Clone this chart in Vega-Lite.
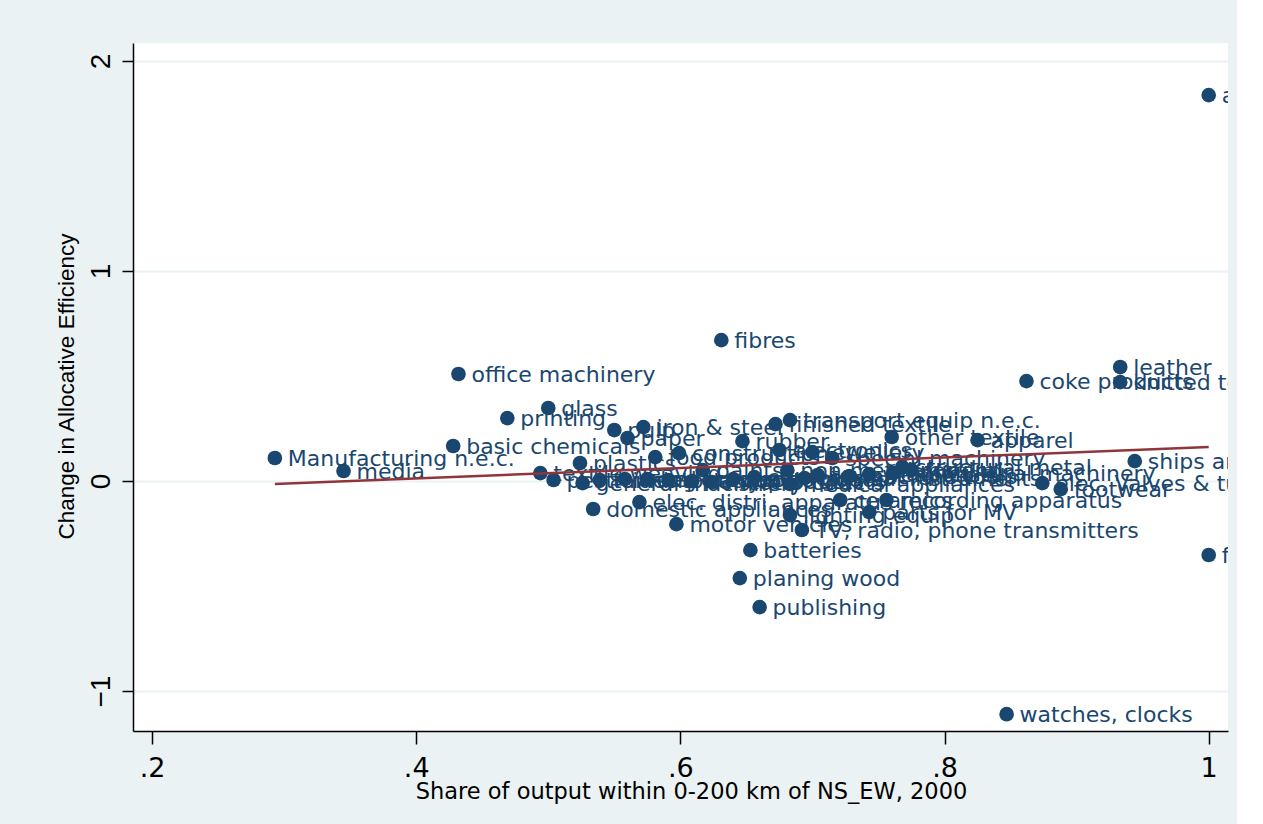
{
  "$schema": "https://vega.github.io/schema/vega-lite/v6.json",
  "autosize": {"type": "none"},
  "width": 1095,
  "height": 688,
  "padding": {"left": 133, "top": 43, "right": 9, "bottom": 93},
  "background": "#eaf2f3",
  "config": {"view": {"stroke": null, "fill": "white"}},
  "datasets": {
    "industries": [
      {"industry": "aircraft", "share": 1.000, "change": 1.838},
      {"industry": "fibres", "share": 0.631, "change": 0.671},
      {"industry": "office machinery", "share": 0.432, "change": 0.510},
      {"industry": "leather", "share": 0.933, "change": 0.543},
      {"industry": "coke products", "share": 0.862, "change": 0.476},
      {"industry": "knitted textiles", "share": 0.933, "change": 0.471},
      {"industry": "printing", "share": 0.469, "change": 0.300},
      {"industry": "glass", "share": 0.500, "change": 0.348},
      {"industry": "pulp", "share": 0.550, "change": 0.243},
      {"industry": "iron & steel", "share": 0.572, "change": 0.257},
      {"industry": "paper", "share": 0.560, "change": 0.205},
      {"industry": "finished textile", "share": 0.672, "change": 0.271},
      {"industry": "transport equip n.e.c.", "share": 0.683, "change": 0.290},
      {"industry": "rubber", "share": 0.647, "change": 0.190},
      {"industry": "other textile", "share": 0.760, "change": 0.210},
      {"industry": "apparel", "share": 0.825, "change": 0.195},
      {"industry": "basic chemicals", "share": 0.428, "change": 0.167},
      {"industry": "Manufacturing n.e.c.", "share": 0.293, "change": 0.110},
      {"industry": "media", "share": 0.345, "change": 0.048},
      {"industry": "textile weaving", "share": 0.494, "change": 0.038},
      {"industry": "pesticides", "share": 0.504, "change": 0.005},
      {"industry": "plastics", "share": 0.524, "change": 0.086},
      {"industry": "general machinery", "share": 0.526, "change": -0.010},
      {"industry": "food products", "share": 0.581, "change": 0.114},
      {"industry": "construction", "share": 0.599, "change": 0.133},
      {"industry": "tanning", "share": 0.539, "change": 0.005},
      {"industry": "wood products", "share": 0.558, "change": 0.010},
      {"industry": "beverages", "share": 0.575, "change": 0.010},
      {"industry": "tobacco", "share": 0.591, "change": 0.005},
      {"industry": "dairy products", "share": 0.609, "change": 0.000},
      {"industry": "meat products", "share": 0.624, "change": -0.005},
      {"industry": "sports goods", "share": 0.640, "change": 0.010},
      {"industry": "cement", "share": 0.656, "change": 0.019},
      {"industry": "medical appliances", "share": 0.683, "change": -0.014},
      {"industry": "electronics", "share": 0.675, "change": 0.148},
      {"industry": "jewellery", "share": 0.700, "change": 0.138},
      {"industry": "special machinery", "share": 0.715, "change": 0.110},
      {"industry": "non-metal mineral", "share": 0.681, "change": 0.052},
      {"industry": "toys", "share": 0.704, "change": 0.029},
      {"industry": "musical instruments", "share": 0.694, "change": 0.014},
      {"industry": "machine tools", "share": 0.728, "change": 0.024},
      {"industry": "weapons", "share": 0.743, "change": 0.033},
      {"industry": "agricultural machinery", "share": 0.761, "change": 0.038},
      {"industry": "structural metal", "share": 0.768, "change": 0.067},
      {"industry": "forging", "share": 0.775, "change": 0.052},
      {"industry": "paints", "share": 0.617, "change": 0.052},
      {"industry": "elec. distri. apparatus", "share": 0.569, "change": -0.100},
      {"industry": "domestic appliances", "share": 0.534, "change": -0.133},
      {"industry": "motor vehicles", "share": 0.597, "change": -0.205},
      {"industry": "ceramics", "share": 0.721, "change": -0.090},
      {"industry": "recording apparatus", "share": 0.756, "change": -0.090},
      {"industry": "lighting equip", "share": 0.683, "change": -0.162},
      {"industry": "parts for MV", "share": 0.743, "change": -0.148},
      {"industry": "TV, radio, phone transmitters", "share": 0.692, "change": -0.233},
      {"industry": "batteries", "share": 0.653, "change": -0.329},
      {"industry": "planing wood", "share": 0.645, "change": -0.462},
      {"industry": "publishing", "share": 0.660, "change": -0.600},
      {"industry": "watches, clocks", "share": 0.847, "change": -1.110},
      {"industry": "furniture", "share": 1.000, "change": -0.352},
      {"industry": "ships and boats", "share": 0.944, "change": 0.095},
      {"industry": "elec. Valves & tubes", "share": 0.874, "change": -0.010},
      {"industry": "footwear", "share": 0.888, "change": -0.038}
    ],
    "fit": [
      {"share": 0.293, "change": -0.014},
      {"share": 1.000, "change": 0.162}
    ]
  },
  "encoding": {
    "x": {
      "field": "share",
      "type": "quantitative",
      "scale": {"domain": [0.1856, 1.0146], "nice": false, "zero": false},
      "axis": {
        "values": [0.2, 0.4, 0.6, 0.8, 1],
        "labelExpr": "datum.value == 1 ? '1' : replace(format(datum.value, '.1f'), '0.', '.')",
        "grid": false,
        "domainColor": "#000000",
        "domainWidth": 1.5,
        "tickColor": "#000000",
        "tickWidth": 1.5,
        "tickSize": 13,
        "labelFont": "DejaVu Sans",
        "labelFontSize": 27,
        "labelColor": "#000000",
        "labelPadding": 11,
        "labelFlush": false,
        "labelOverlap": false,
        "title": "Share of output within 0-200 km of NS_EW, 2000",
        "titleFont": "DejaVu Sans",
        "titleFontSize": 22.5,
        "titleFontWeight": "normal",
        "titleColor": "#000000",
        "titleX": 558,
        "titleY": 67,
        "titleBaseline": "alphabetic",
        "titleAlign": "center"
      }
    },
    "y": {
      "field": "change",
      "type": "quantitative",
      "scale": {"domain": [-1.19, 2.086], "nice": false, "zero": false},
      "axis": {
        "values": [-1, 0, 1, 2],
        "grid": true,
        "gridColor": "#eaf2f3",
        "gridWidth": 2,
        "domainColor": "#000000",
        "domainWidth": 1.5,
        "tickColor": "#000000",
        "tickWidth": 1.5,
        "tickSize": 11,
        "labelFont": "Liberation Sans",
        "labelFontSize": 28,
        "labelColor": "#000000",
        "labelAngle": -90,
        "labelAlign": "center",
        "labelBaseline": "alphabetic",
        "labelPadding": 13,
        "labelFlush": false,
        "labelOverlap": false,
        "title": "Change in Allocative Efficiency",
        "titleFont": "Liberation Sans",
        "titleFontSize": 22.5,
        "titleFontWeight": "normal",
        "titleColor": "#000000",
        "titleX": -60,
        "titleY": 343,
        "titleAngle": -90,
        "titleBaseline": "alphabetic",
        "titleAlign": "center"
      }
    }
  },
  "layer": [
    {
      "data": {"name": "industries"},
      "mark": {"type": "point", "filled": true, "shape": "circle", "size": 215, "color": "#1a476f", "opacity": 1}
    },
    {
      "data": {"name": "industries"},
      "mark": {"type": "text", "align": "left", "baseline": "middle", "dx": 13, "dy": 1, "font": "DejaVu Sans", "fontSize": 22, "color": "#1a476f", "clip": true},
      "encoding": {"text": {"field": "industry"}}
    },
    {
      "data": {"name": "fit"},
      "mark": {"type": "line", "color": "#90353b", "strokeWidth": 2.5}
    }
  ]
}
